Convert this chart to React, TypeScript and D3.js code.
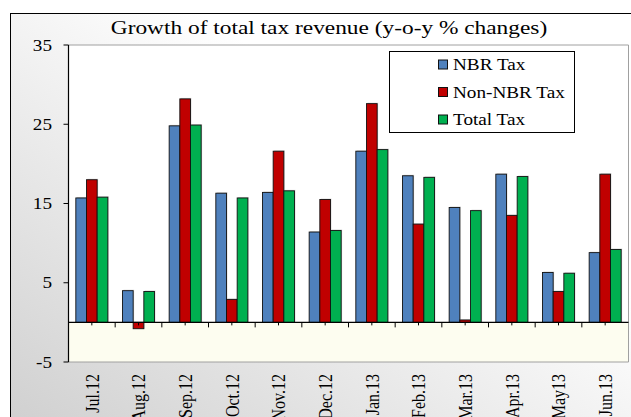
import React, { useEffect, useRef } from 'react';
import * as d3 from 'd3';

// chart values
const categories = ['Jul.12', 'Aug.12', 'Sep.12', 'Oct.12', 'Nov.12', 'Dec.12', 'Jan.13', 'Feb.13', 'Mar.13', 'Apr.13', 'May13', 'Jun.13'];
const nbrTax = [15.7, 4.0, 24.8, 16.3, 16.4, 11.4, 21.6, 18.5, 14.5, 18.7, 6.3, 8.8];
const nonNbrTax = [18.0, -0.8, 28.2, 2.9, 21.6, 15.5, 27.6, 12.4, 0.3, 13.5, 3.9, 18.7];
const totalTax = [15.8, 3.9, 24.9, 15.7, 16.6, 11.6, 21.8, 18.3, 14.1, 18.4, 6.2, 9.2];
const seriesNames = ['NBR Tax', 'Non-NBR Tax', 'Total Tax'];
const seriesColors = ['#4F81BD', '#C00000', '#00B050'];
const yTicks = [-5, 5, 15, 25, 35];
const title = 'Growth of total tax revenue (y-o-y % changes)';

const W = 631;
const H = 417;
const FONT = '"Liberation Serif", "Times New Roman", serif';
const SX = 1.2; // the source picture is stretched sideways

export default function App() {
  const svgRef = useRef<SVGSVGElement | null>(null);

  useEffect(() => {
    const svg = d3.select(svgRef.current);
    svg.selectAll('*').remove();

    const left = 68.5, right = 628.5, top = 45, bottom = 362;

    const x0 = d3.scaleBand<string>().domain(categories).range([left, right]).padding(0);
    const bw = x0.bandwidth();
    const x1 = d3.scaleBand<string>().domain(seriesNames).range([bw * 0.157, bw * 0.843]).padding(0);
    const y = d3.scaleLinear().domain([-5, 35]).range([bottom, top]);

    // background gradient
    const defs = svg.append('defs');
    const grad = defs.append('linearGradient').attr('id', 'bg')
      .attr('x1', 1).attr('y1', 0).attr('x2', 0).attr('y2', 1);
    grad.append('stop').attr('offset', 0.35).attr('stop-color', '#ffffff');
    grad.append('stop').attr('offset', 1).attr('stop-color', '#cfcfcf');

    svg.append('rect').attr('x', 10.5).attr('y', 13.5).attr('width', 640).attr('height', 420)
      .attr('fill', 'url(#bg)').attr('stroke', '#000').attr('stroke-width', 1);

    // plot area
    svg.append('rect').attr('x', left).attr('y', top).attr('width', right - left).attr('height', y(0) - top)
      .attr('fill', '#ffffff');
    svg.append('rect').attr('x', left).attr('y', y(0)).attr('width', right - left).attr('height', bottom - y(0))
      .attr('fill', '#fdfdf0');
    svg.append('path')
      .attr('d', `M${left},${top}H${right}V${bottom}H${left}`)
      .attr('fill', 'none').attr('stroke', '#a0a0a0').attr('stroke-width', 1);

    // title
    svg.append('text')
      .attr('transform', `translate(329,34) scale(1.23,1)`)
      .attr('text-anchor', 'middle')
      .attr('font-family', FONT).attr('font-size', 19)
      .text(title);

    // bars
    const data = [nbrTax, nonNbrTax, totalTax];
    const g = svg.append('g');
    categories.forEach((c, i) => {
      data.forEach((vals, s) => {
        const v = vals[i];
        const bx = x0(c)! + x1(seriesNames[s])!;
        const by = Math.min(y(v), y(0));
        const bh = Math.abs(y(v) - y(0));
        // faint shadow
        g.append('rect').attr('x', bx + 1).attr('y', by - 1).attr('width', x1.bandwidth()).attr('height', bh + 1)
          .attr('fill', '#000').attr('opacity', 0.15);
        g.append('rect').attr('x', bx).attr('y', by).attr('width', x1.bandwidth()).attr('height', bh)
          .attr('fill', seriesColors[s]).attr('stroke', '#111').attr('stroke-width', 0.9);
      });
    });

    // y axis
    svg.append('line').attr('x1', left).attr('x2', left).attr('y1', top).attr('y2', bottom)
      .attr('stroke', '#000').attr('stroke-width', 1.2);
    yTicks.forEach((t) => {
      svg.append('line').attr('x1', left - 5).attr('x2', left).attr('y1', y(t)).attr('y2', y(t))
        .attr('stroke', '#000');
      svg.append('text')
        .attr('transform', `translate(52,${y(t) + 5.5}) scale(${SX},1)`)
        .attr('text-anchor', 'end')
        .attr('font-family', FONT).attr('font-size', 16)
        .text(t);
    });

    // x axis along zero
    svg.append('line').attr('x1', left).attr('x2', right).attr('y1', y(0)).attr('y2', y(0))
      .attr('stroke', '#000').attr('stroke-width', 1.2);
    categories.forEach((c, i) => {
      const bx = x0(c)!;
      if (i > 0) {
        svg.append('line').attr('x1', bx).attr('x2', bx).attr('y1', y(0)).attr('y2', y(0) + 5).attr('stroke', '#000');
      }
      svg.append('line').attr('x1', bx + bw / 2).attr('x2', bx + bw / 2).attr('y1', y(0)).attr('y2', y(0) + 3)
        .attr('stroke', '#000');
      svg.append('text')
        .attr('transform', `translate(${bx + bw / 2},374) scale(${SX},1) rotate(-90)`)
        .attr('text-anchor', 'end')
        .attr('dy', '0.35em')
        .attr('font-family', FONT).attr('font-size', 16)
        .text(c);
    });

    // legend
    svg.append('rect').attr('x', 389.5).attr('y', 51.5).attr('width', 185).attr('height', 81)
      .attr('fill', '#fff').attr('stroke', '#000');
    const rows = [64.5, 92, 119.5];
    seriesNames.forEach((n, s) => {
      svg.append('rect').attr('x', 438.5).attr('y', rows[s] - 4.5).attr('width', 9).attr('height', 9)
        .attr('fill', seriesColors[s]).attr('stroke', '#111');
      svg.append('text')
        .attr('transform', `translate(453,${rows[s] + 5.5}) scale(${SX},1)`)
        .attr('font-family', FONT).attr('font-size', 16)
        .text(n);
    });
  }, []);

  return (
    <div style={{ position: 'absolute', left: 0, top: 0 }}>
      <svg ref={svgRef} width={W} height={H} style={{ display: 'block' }} />
    </div>
  );
}
